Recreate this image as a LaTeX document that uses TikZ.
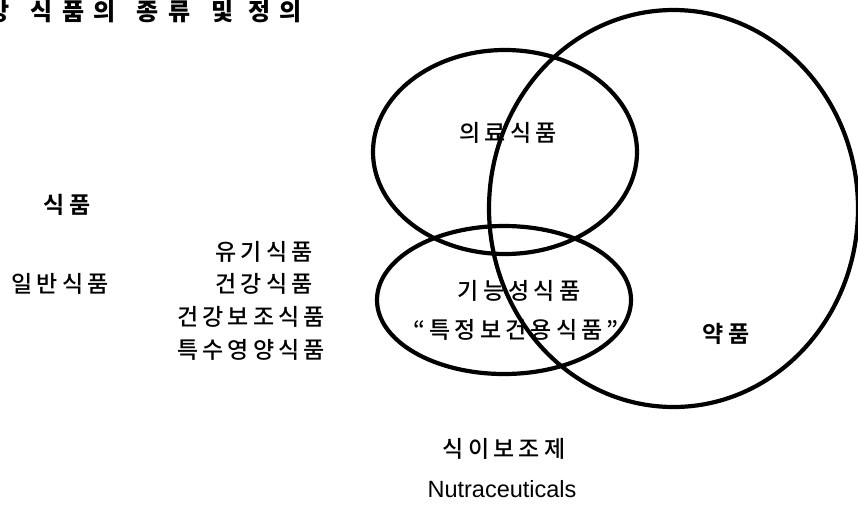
\documentclass[tikz,border=0pt]{standalone}
\usepackage{fontspec}
\setmainfont{Liberation Sans}
\newfontfamily\kr[LetterSpace=18,UprightFont={* Medium},BoldFont={* Bold}]{Noto Sans CJK KR}
\newfontfamily\krtitle[LetterSpace=38]{Noto Sans CJK KR}
\usetikzlibrary{shapes.geometric}
\begin{document}
\begin{tikzpicture}[x=1pt,y=-1pt,
  ring/.style={draw, ellipse, line width=4.2pt, inner sep=0pt, outer sep=0pt},
  lbl/.style={inner sep=0pt, font=\kr\fontsize{23}{27}\selectfont},
  blbl/.style={inner sep=0pt, font=\kr\bfseries\fontsize{23}{27}\selectfont},
  ttl/.style={inner sep=0pt, anchor=west, font=\krtitle\bfseries\fontsize{24}{28}\selectfont},
  enlbl/.style={inner sep=0pt, font=\fontsize{23.5}{27}\selectfont}]
\useasboundingbox (0,0) rectangle (858,504);
\begin{scope}
\clip (0,0) rectangle (858,504);
\node[ring, minimum width=369pt, minimum height=397pt] (drug) at (673.5,208.5) {};
\node[ring, minimum width=264pt, minimum height=204pt] (med) at (505,152) {};
\node[ring, minimum width=254pt, minimum height=148pt] (func) at (504,300) {};
\node[ttl] (title) at (-13,12) {강\hspace{7pt} 식품의\hspace{7pt} 종류\hspace{7pt} 및 정의};
\end{scope}
\node[blbl] (food) at (67,205) {식품};
\node[lbl] (organic) at (264,252) {유기식품};
\node[lbl] (general) at (60,284) {일반식품};
\node[lbl] (health) at (264,284) {건강식품};
\node[lbl] (suppl) at (251,317) {건강보조식품};
\node[lbl] (special) at (251,350) {특수영양식품};
\node[lbl] (medlbl) at (508,133) {의료식품};
\node[lbl] (funclbl) at (519,291) {기능성식품};
\node[lbl] (foshu) at (516,330) {“특정보건용식품”};
\node[blbl] (druglbl) at (726,334) {약품};
\node[lbl] (diet) at (504,449) {식이보조제};
\node[enlbl] (nutra) at (502,489) {Nutraceuticals};
\end{tikzpicture}
\end{document}
